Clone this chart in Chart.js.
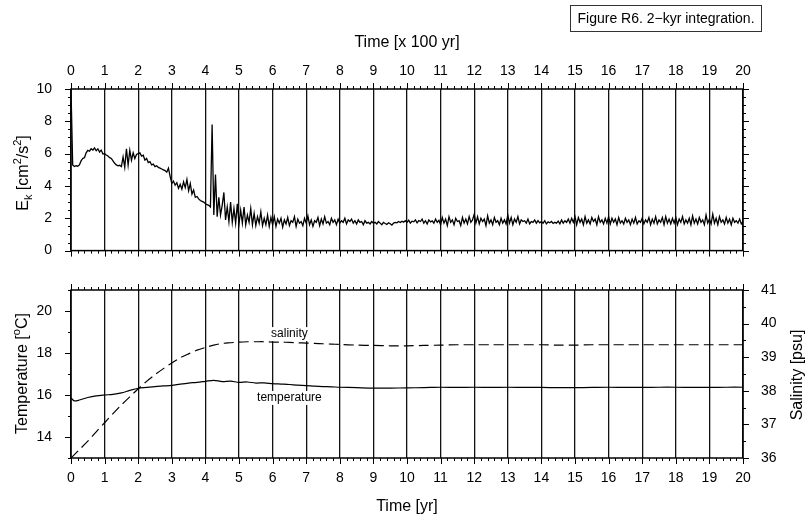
<!DOCTYPE html>
<html lang="en">
<head>
<meta charset="UTF-8">
<title>Figure R6. 2-kyr integration</title>
<script src="https://cdn.jsdelivr.net/npm/chart.js"></script>
<style>
  body { margin: 0; background: #fff; }
  #wrap { position: relative; width: 808px; height: 525px; }
  canvas { position: absolute; left: 0; }
  #ekChart { top: 0; }
  #tsChart { top: 270px; }
  #caption {
    position: absolute; left: 570px; top: 5px; width: 190px; height: 25px;
    border: 1px solid #333; font: 14px 'Liberation Sans', Arial, sans-serif;
    line-height: 25px; text-align: center; color: #000;
  }
</style>
</head>
<body>
<div id="wrap">
  <canvas id="ekChart" width="808" height="270"></canvas>
  <canvas id="tsChart" width="808" height="255"></canvas>
  <div id="caption">Figure R6. 2&minus;kyr integration.</div>
</div>
<script>
// tick labels
const timeTicks = [0, 1, 2, 3, 4, 5, 6, 7, 8, 9, 10, 11, 12, 13, 14, 15, 16, 17, 18, 19, 20];
const ekTicks = [0, 2, 4, 6, 8, 10];
const tempTicks = [14, 16, 18, 20];
const salTicks = [36, 37, 38, 39, 40, 41];

// kinetic energy, one sample every 0.05 (x 100 yr)
const ekStep = 0.05;
const ekValues = [
  10.0, 5.3, 5.2, 5.25, 5.22, 5.3, 5.55, 5.7, 5.75, 6.05, 6.2, 6.15, 6.3, 6.22, 6.35, 6.18, 6.3, 6.1, 6.22, 5.98,
  6.0, 5.92, 5.85, 5.75, 5.7, 5.55, 5.4, 5.3, 5.25, 5.28, 5.2, 5.8, 5.15, 6.3, 5.3, 6.2, 5.6, 6.05, 5.7, 5.95,
  6.0, 6.05, 5.85, 5.9, 5.6, 5.7, 5.45, 5.5, 5.3, 5.35, 5.2, 5.25, 5.15, 5.1, 5.05, 5.0, 4.95, 4.85, 5.1, 4.6,
  4.15, 4.3, 4.05, 4.2, 3.85, 4.1, 3.8, 4.25, 3.9, 4.4, 3.7, 4.15, 3.5, 3.75, 3.3, 3.35, 3.2, 3.1, 3.05, 3.0,
  2.9, 2.85, 2.8, 2.7, 7.8, 2.2, 4.7, 2.1, 3.3, 2.2, 2.8, 3.6, 1.9, 2.7, 1.8, 3.0, 1.75, 2.6, 1.7, 2.9,
  1.65, 2.5, 1.7, 2.7, 1.6, 2.2, 1.75, 2.6, 1.6, 2.3, 1.55, 2.1, 1.7, 2.4, 1.55, 2.0, 1.6, 2.2, 1.5, 2.05,
  1.6, 2.1, 1.5, 1.95, 1.7, 2.0, 1.45, 1.9, 1.65, 2.05, 1.55, 1.85, 1.75, 2.1, 1.5, 1.95, 1.7, 1.8, 1.55, 2.0,
  1.7, 2.15, 1.6, 1.9, 1.5, 1.85, 1.75, 2.05, 1.55, 1.95, 1.65, 2.1, 1.7, 1.8, 1.6, 2.0, 1.75, 1.9, 1.6, 1.95,
  1.7, 1.85, 1.75, 2.0, 1.65, 1.9, 1.8, 1.95, 1.7, 1.85, 1.65, 1.9, 1.75, 1.8, 1.6, 1.85, 1.7, 1.75, 1.65, 1.8,
  1.7, 1.75, 1.65, 1.8, 1.7, 1.6, 1.75, 1.68, 1.62, 1.72, 1.66, 1.58, 1.7, 1.75, 1.72, 1.8, 1.74, 1.82, 1.76, 1.85,
  1.75, 1.88, 1.7, 1.82, 1.78, 1.9, 1.72, 1.86, 1.8, 1.95, 1.7, 1.85, 1.65, 1.9, 1.78, 1.84, 1.7, 1.95, 1.75, 1.88,
  1.6, 2.05, 1.7, 1.95, 1.55, 2.1, 1.75, 1.9, 1.6, 2.0, 1.8, 1.85, 1.55, 2.05, 1.7, 1.95, 1.65, 2.1, 1.75, 1.9,
  2.25, 1.7, 2.1, 1.65, 2.0, 1.8, 1.95, 1.55, 2.15, 1.7, 1.9, 1.6, 2.05, 1.75, 1.85, 1.6, 2.0, 1.7, 1.9, 1.65,
  2.2, 1.7, 2.05, 1.6, 1.95, 1.75, 2.1, 1.65, 1.9, 1.8, 1.85, 1.7, 1.95, 1.65, 1.8, 1.75, 1.9, 1.7, 1.85, 1.72,
  1.8, 1.7, 1.85, 1.65, 1.78, 1.72, 1.8, 1.68, 1.75, 1.7, 1.82, 1.66, 1.9, 1.7, 1.85, 1.75, 1.95, 1.7, 2.0, 1.75,
  2.1, 1.6, 2.05, 1.75, 1.95, 1.6, 2.1, 1.7, 1.9, 1.65, 2.05, 1.8, 1.95, 1.6, 2.1, 1.75, 1.9, 1.65, 2.0, 1.7,
  2.1, 1.65, 2.0, 1.75, 1.95, 1.6, 2.05, 1.7, 1.85, 1.65, 2.0, 1.75, 1.9, 1.6, 1.95, 1.7, 2.05, 1.65, 1.85, 1.75,
  2.0, 1.65, 1.9, 1.75, 2.05, 1.6, 1.95, 1.7, 2.1, 1.65, 1.9, 1.75, 2.05, 1.6, 2.1, 1.7, 1.95, 1.65, 2.0, 1.7,
  2.05, 1.6, 1.95, 1.75, 2.1, 1.65, 1.9, 1.7, 2.0, 1.6, 2.15, 1.7, 1.95, 1.65, 2.05, 1.75, 1.9, 1.6, 2.2, 1.7,
  1.95, 1.65, 2.25, 1.7, 2.0, 1.6, 2.1, 1.75, 1.9, 1.65, 2.05, 1.7, 1.95, 1.6, 2.0, 1.75, 1.85, 1.7, 1.95, 1.65,
  1.8
];

// temperature / salinity (yr)
const tsTime = [0, 0.1, 0.25, 0.5, 0.75, 1, 1.25, 1.5, 1.75, 2, 2.25, 2.5, 2.75, 3, 3.25, 3.5, 3.75, 4,
  4.25, 4.5, 4.75, 5, 5.25, 5.5, 5.75, 6, 6.25, 6.5, 6.75, 7, 7.25, 7.5, 7.75, 8,
  8.5, 9, 9.5, 10, 10.5, 11, 11.5, 12, 12.5, 13, 13.5, 14, 14.5, 15, 15.5, 16, 16.5, 17, 17.5, 18, 18.5, 19, 19.5, 20];
const tempValues = [15.86, 15.72, 15.76, 15.88, 15.96, 16.0, 16.03, 16.1, 16.22, 16.32, 16.36, 16.4, 16.43, 16.46,
  16.52, 16.57, 16.6, 16.65, 16.7, 16.64, 16.66, 16.6, 16.62, 16.57, 16.58, 16.54, 16.52, 16.5, 16.47, 16.45,
  16.42, 16.4, 16.39, 16.37,
  16.35, 16.33, 16.33, 16.34, 16.35, 16.37, 16.36, 16.37, 16.36, 16.37, 16.36, 16.36, 16.35, 16.35, 16.36,
  16.37, 16.36, 16.36, 16.37, 16.37, 16.36, 16.36, 16.37, 16.37];
const salValues = [36.0, 36.1, 36.25, 36.5, 36.78, 37.05, 37.32, 37.58, 37.82, 38.06, 38.28, 38.48, 38.66, 38.83,
  38.98, 39.1, 39.21, 39.29, 39.36, 39.41, 39.43, 39.45, 39.46, 39.46, 39.46, 39.45, 39.45, 39.44, 39.43, 39.42,
  39.41, 39.4, 39.39, 39.38,
  39.36, 39.35, 39.34, 39.34, 39.35, 39.36, 39.37, 39.37, 39.37, 39.37, 39.37, 39.37, 39.36, 39.36, 39.37,
  39.37, 39.37, 39.37, 39.37, 39.37, 39.37, 39.37, 39.37, 39.37];

const FONT = "'Liberation Sans', Arial, sans-serif";
Chart.defaults.font.family = FONT;
Chart.defaults.font.size = 14;
Chart.defaults.color = '#000';

const fixTicks = list => s => { s.ticks = list.map(v => ({ value: v })); };
const isMajor = (v, step) => Math.abs(v / step - Math.round(v / step)) < 1e-6;

// frame plus outside tick marks (major + minor)
function frameTicks(o) {
  return {
    id: 'frameTicks',
    afterDraw(chart) {
      const { ctx, chartArea: a, scales } = chart;
      ctx.save();
      ctx.strokeStyle = '#000';
      ctx.lineWidth = 1;
      ctx.beginPath();
      const xs = scales.x;
      const n = Math.round((xs.max - xs.min) / o.xMinor);
      for (let i = 0; i <= n; i++) {
        const v = xs.min + i * o.xMinor;
        const len = isMajor(v, o.xMajor) ? 6 : 3;
        const px = Math.round(xs.getPixelForValue(v)) + 0.5;
        ctx.moveTo(px, a.top); ctx.lineTo(px, a.top - len);
        ctx.moveTo(px, a.bottom); ctx.lineTo(px, a.bottom + len);
      }
      [[a.left, -1, o.left], [a.right, 1, o.right]].forEach(([edge, dir, s]) => {
        const sc = scales[s.id];
        const m = Math.round((sc.max - sc.min) / s.minor);
        for (let i = 0; i <= m; i++) {
          const v = sc.min + i * s.minor;
          const len = isMajor(v, s.major) ? 6 : 3;
          const py = Math.round(sc.getPixelForValue(v)) + 0.5;
          ctx.moveTo(edge, py); ctx.lineTo(edge + dir * len, py);
        }
      });
      ctx.stroke();
      ctx.lineWidth = 1.5;
      ctx.strokeRect(a.left, a.top, a.right - a.left, a.bottom - a.top);
      ctx.restore();
    }
  };
}

// rotated axis titles with sub/superscripts
function axisTitles(items) {
  return {
    id: 'axisTitles',
    afterDraw(chart) {
      const ctx = chart.ctx;
      items.forEach(t => {
        ctx.save();
        ctx.translate(t.x, t.y);
        ctx.rotate(-Math.PI / 2);
        ctx.fillStyle = '#000';
        ctx.textBaseline = 'alphabetic';
        const pieces = t.parts.map(p => {
          const size = p[1] ? 11 : 16;
          ctx.font = size + 'px ' + FONT;
          return { text: p[0], size, shift: p[1], w: ctx.measureText(p[0]).width };
        });
        let cx = -pieces.reduce((s, p) => s + p.w, 0) / 2;
        pieces.forEach(p => {
          ctx.font = p.size + 'px ' + FONT;
          ctx.fillText(p.text, cx, 6 + p.shift);
          cx += p.w;
        });
        ctx.restore();
      });
    }
  };
}

// in-plot curve names
function curveLabels(items) {
  return {
    id: 'curveLabels',
    afterDatasetsDraw(chart) {
      const { ctx, scales } = chart;
      ctx.save();
      ctx.font = '12px ' + FONT;
      ctx.textAlign = 'center';
      ctx.textBaseline = 'middle';
      items.forEach(it => {
        const px = scales.x.getPixelForValue(it.x);
        const py = scales[it.axis].getPixelForValue(it.y);
        const w = ctx.measureText(it.text).width + 4;
        ctx.fillStyle = '#fff';
        ctx.fillRect(px - w / 2, py - 7, w, 14);
        ctx.fillStyle = '#000';
        ctx.fillText(it.text, px, py);
      });
      ctx.restore();
    }
  };
}

const xGrid = { color: '#111', lineWidth: 1.3, drawTicks: false };

new Chart(document.getElementById('ekChart'), {
  type: 'line',
  data: {
    datasets: [{
      data: ekValues.map((v, i) => ({ x: i * ekStep, y: v })),
      borderColor: '#000', borderWidth: 1.3, pointRadius: 0, tension: 0
    }]
  },
  options: {
    responsive: false, animation: false,
    layout: { padding: { right: 65, bottom: 13 } },
    plugins: { legend: { display: false }, tooltip: { enabled: false } },
    scales: {
      x: {
        type: 'linear', position: 'top', min: 0, max: 20,
        afterBuildTicks: fixTicks(timeTicks),
        afterFit: s => { s.height = 89; },
        ticks: { padding: 9, autoSkip: false, maxRotation: 0 },
        grid: xGrid, border: { display: false },
        title: { display: true, text: 'Time [x 100 yr]', font: { size: 16 }, padding: { top: 33, bottom: 0 } }
      },
      y: {
        min: 0, max: 10,
        afterBuildTicks: fixTicks(ekTicks),
        afterFit: s => { s.width = 71; },
        ticks: { padding: 11 },
        grid: { display: false }, border: { display: false }
      }
    }
  },
  plugins: [
    frameTicks({ xMinor: 0.2, xMajor: 1, left: { id: 'y', minor: 0.5, major: 2 }, right: { id: 'y', minor: 0.5, major: 2 } }),
    axisTitles([{ x: 22, y: 173, parts: [['E', 0], ['k', 4], [' [cm', 0], ['2', -7], ['/s', 0], ['2', -7], [']', 0]] }])
  ]
});

new Chart(document.getElementById('tsChart'), {
  type: 'line',
  data: {
    datasets: [{
      label: 'temperature',
      data: tempValues.map((v, i) => ({ x: tsTime[i], y: v })),
      yAxisID: 'y', borderColor: '#000', borderWidth: 1.2, pointRadius: 0, tension: 0.3
    }, {
      label: 'salinity',
      data: salValues.map((v, i) => ({ x: tsTime[i], y: v })),
      yAxisID: 'ySal', borderColor: '#000', borderWidth: 1.2, borderDash: [10, 5], pointRadius: 0, tension: 0.3
    }]
  },
  options: {
    responsive: false, animation: false,
    layout: { padding: { top: 20 } },
    plugins: { legend: { display: false }, tooltip: { enabled: false } },
    scales: {
      x: {
        type: 'linear', position: 'bottom', min: 0, max: 20,
        afterBuildTicks: fixTicks(timeTicks),
        afterFit: s => { s.height = 67; },
        ticks: { padding: 12, autoSkip: false, maxRotation: 0 },
        grid: xGrid, border: { display: false },
        title: { display: true, text: 'Time [yr]', font: { size: 16 }, padding: { top: 0, bottom: 9 } }
      },
      y: {
        position: 'left', min: 13, max: 21,
        afterBuildTicks: fixTicks(tempTicks),
        afterFit: s => { s.width = 71; },
        ticks: { padding: 11 },
        grid: { display: false }, border: { display: false }
      },
      ySal: {
        position: 'right', min: 36, max: 41,
        afterBuildTicks: fixTicks(salTicks),
        afterFit: s => { s.width = 65; },
        ticks: { padding: 10 },
        grid: { display: false }, border: { display: false }
      }
    }
  },
  plugins: [
    frameTicks({ xMinor: 0.2, xMajor: 1, left: { id: 'y', minor: 1, major: 2 }, right: { id: 'ySal', minor: 0.5, major: 1 } }),
    axisTitles([
      { x: 21, y: 103.5, parts: [['Temperature [', 0], ['o', -7], ['C]', 0]] },
      { x: 796, y: 105, parts: [['Salinity [psu]', 0]] }
    ]),
    curveLabels([
      { text: 'salinity', x: 6.5, y: 18.9, axis: 'y' },
      { text: 'temperature', x: 6.5, y: 15.86, axis: 'y' }
    ])
  ]
});
</script>
</body>
</html>
